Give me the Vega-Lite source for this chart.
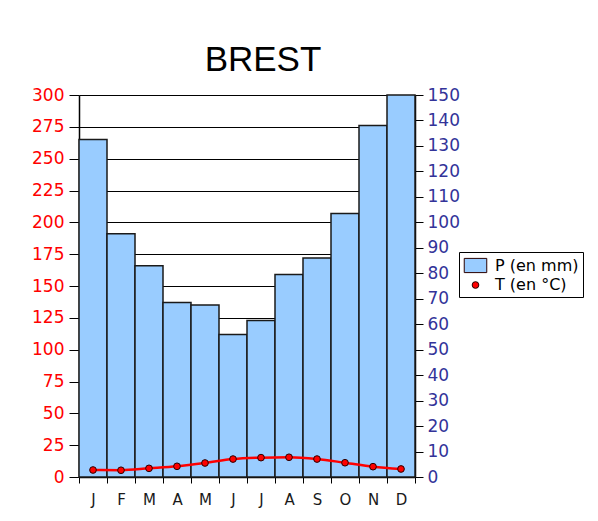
{
  "$schema": "https://vega.github.io/schema/vega-lite/v6.json",
  "width": 336,
  "height": 382,
  "autosize": {"type": "none"},
  "padding": {"left": 79, "top": 95, "right": 183, "bottom": 44},
  "background": "white",
  "title": {"text": "BREST", "font": "Liberation Sans", "fontSize": 35, "fontWeight": "normal", "color": "black", "anchor": "middle", "dx": 16, "baseline": "alphabetic", "offset": -20},
  "data": {"values": [
    {"mois": "Jan", "P": 265, "T": 5.5},
    {"mois": "Fév", "P": 191, "T": 5.3},
    {"mois": "Mar", "P": 166, "T": 6.8},
    {"mois": "Avr", "P": 137, "T": 8.4},
    {"mois": "Mai", "P": 135, "T": 11},
    {"mois": "Juin", "P": 112, "T": 14.1},
    {"mois": "Juil", "P": 123, "T": 15.2},
    {"mois": "Août", "P": 159, "T": 15.5},
    {"mois": "Sep", "P": 172, "T": 14.1},
    {"mois": "Oct", "P": 207, "T": 11.2},
    {"mois": "Nov", "P": 276, "T": 8.1},
    {"mois": "Déc", "P": 300, "T": 6.3}
  ]},
  "encoding": {
    "x": {"field": "mois", "type": "nominal", "sort": null,
      "scale": {"paddingInner": 0, "paddingOuter": 0},
      "axis": {"title": null, "labelExpr": "substring(datum.label,0,1)", "labelFont": "DejaVu Sans", "labelFontSize": 15, "labelColor": "#1a1a1a", "tickBand": "extent", "tickSize": 6, "labelPadding": 9, "domainColor": "black", "domainWidth": 1.5, "tickColor": "black", "labelAngle": 0, "grid": false}}
  },
  "layer": [
    {"layer": [
      {"mark": {"type": "bar", "stroke": "#1a1a1a", "strokeWidth": 1.5},
        "encoding": {
          "y": {"field": "P", "type": "quantitative", "scale": {"domain": [0, 300], "nice": false},
            "axis": {"title": null, "orient": "left", "values": [0,25,50,75,100,125,150,175,200,225,250,275,300], "labelOverlap": false, "labelColor": "#FF0000", "labelFont": "DejaVu Sans", "labelFontSize": 17, "tickSize": 10, "labelPadding": 5, "grid": true, "gridColor": "black", "gridWidth": 1, "gridOpacity": 1, "domainColor": "black", "domainWidth": 1.5, "tickColor": "black"}},
          "fill": {"datum": "P (en mm)", "type": "nominal",
            "scale": {"domain": ["P (en mm)", "T (en °C)"], "range": ["#99CCFF", "#FF0000"]},
            "legend": {"title": null, "orient": "none", "legendX": 380, "legendY": 157, "strokeColor": "black", "fillColor": "white", "padding": 4, "cornerRadius": 0, "labelFont": "DejaVu Sans", "labelFontSize": 16, "labelColor": "black", "symbolOffset": 3, "labelOffset": 10, "rowPadding": 2, "symbolStrokeColor": "#1a1a1a", "symbolStrokeWidth": 1}}
        }},
      {"mark": {"type": "line", "color": "#FF0000", "strokeWidth": 2.5, "interpolate": "monotone"},
        "encoding": {"y": {"field": "T", "type": "quantitative", "scale": {"domain": [0, 300], "nice": false},
            "axis": {"title": null, "orient": "left", "values": [0,25,50,75,100,125,150,175,200,225,250,275,300], "labelOverlap": false, "labelColor": "#FF0000", "labelFont": "DejaVu Sans", "labelFontSize": 17, "tickSize": 10, "labelPadding": 5, "grid": true, "gridColor": "black", "gridWidth": 1, "gridOpacity": 1, "domainColor": "black", "domainWidth": 1.5, "tickColor": "black"}}}},
      {"mark": {"type": "point", "filled": true, "stroke": "#2a0000", "strokeWidth": 1, "opacity": 1},
        "encoding": {"y": {"field": "T", "type": "quantitative", "scale": {"domain": [0, 300], "nice": false},
            "axis": {"title": null, "orient": "left", "values": [0,25,50,75,100,125,150,175,200,225,250,275,300], "labelOverlap": false, "labelColor": "#FF0000", "labelFont": "DejaVu Sans", "labelFontSize": 17, "tickSize": 10, "labelPadding": 5, "grid": true, "gridColor": "black", "gridWidth": 1, "gridOpacity": 1, "domainColor": "black", "domainWidth": 1.5, "tickColor": "black"}},
          "fill": {"datum": "T (en °C)", "type": "nominal"},
          "shape": {"datum": "T (en °C)", "type": "nominal",
            "scale": {"domain": ["P (en mm)", "T (en °C)"], "range": ["M-1.3,-0.82H1.3V0.82H-1.3Z", "circle"]},
            "legend": {"title": null, "orient": "none", "legendX": 380, "legendY": 157}},
          "size": {"datum": "T (en °C)", "type": "nominal",
            "scale": {"domain": ["P (en mm)", "T (en °C)"], "range": [300, 45]},
            "legend": {"title": null, "orient": "none", "legendX": 380, "legendY": 157}}}}
    ]},
    {"mark": {"type": "point", "opacity": 0},
      "encoding": {"y": {"field": "T", "type": "quantitative", "scale": {"domain": [0, 150], "nice": false},
        "axis": {"title": null, "orient": "right", "values": [0,10,20,30,40,50,60,70,80,90,100,110,120,130,140,150], "labelColor": "#333399", "labelFont": "DejaVu Sans", "labelFontSize": 17, "tickSize": 8, "labelPadding": 4, "grid": false, "domainColor": "black", "domainWidth": 1.5, "tickColor": "black"}}}}
  ],
  "resolve": {"scale": {"y": "independent"}},
  "config": {"view": {"stroke": null}}
}
